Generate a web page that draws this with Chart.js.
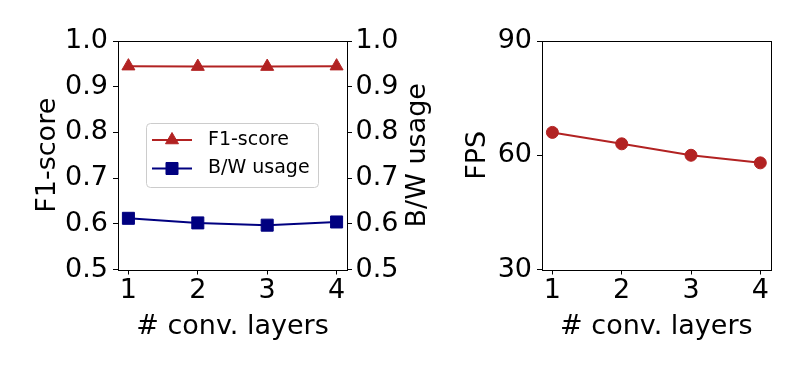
<!DOCTYPE html>
<html>
<head>
<meta charset="utf-8">
<script src="https://cdn.jsdelivr.net/npm/chart.js@4.4.0/dist/chart.umd.min.js"></script>
<style>
  html, body { margin: 0; padding: 0; background: #fff; }
  #wrap { position: relative; width: 800px; height: 370px; }
  #left { position: absolute; left: 0; top: 0; }
  #right { position: absolute; left: 460px; top: 0; }
</style>
</head>
<body>
<div id="wrap">
  <canvas id="left" width="460" height="370"></canvas>
  <canvas id="right" width="340" height="370"></canvas>
</div>
<script>
// data
var layers = [1, 2, 3, 4];
var f1Score = [0.945, 0.944, 0.944, 0.945];
var bwUsage = [0.612, 0.602, 0.597, 0.604];
var fps = [66, 63, 60, 58];
var scoreTicks = [0.5, 0.6, 0.7, 0.8, 0.9, 1.0];
var fpsTicks = [30, 60, 90];

var FONT = 'DejaVu Sans';
var RED = '#b22222';
var NAVY = '#000080';

function pts(ys) {
    return layers.map(function(x, i) { return { x: x, y: ys[i] }; });
}

function fixedTicks(values) {
    return function(scale) {
        scale.ticks = values.map(function(v) { return { value: v }; });
    };
}

function axisGrid() {
    return { drawOnChartArea: false, drawTicks: true, tickLength: 5, tickWidth: 1, color: '#000' };
}

function xAxis() {
    return {
        type: 'linear', position: 'bottom', min: 0.85, max: 4.15,
        afterBuildTicks: fixedTicks(layers),
        afterFit: function(s) { s.height = 100.5; },
        grid: axisGrid(),
        border: { display: false },
        ticks: { color: '#000', font: { family: FONT, size: 27 }, padding: 0, maxRotation: 0, autoSkip: false,
                 callback: function(v) { return String(v); } },
        title: { display: true, text: '# conv. layers', color: '#000', font: { family: FONT, size: 27 },
                 padding: { top: 0, bottom: 27 } }
    };
}

function yAxis(pos, min, max, ticks, width, pad, digits, title, titlePad) {
    return {
        type: 'linear', position: pos, min: min, max: max,
        afterBuildTicks: fixedTicks(ticks),
        afterFit: function(s) { s.width = width; },
        grid: axisGrid(),
        border: { display: false },
        ticks: { color: '#000', font: { family: FONT, size: 27 }, padding: pad,
                 callback: function(v) { return v.toFixed(digits); } },
        title: { display: !!title, text: title || '', color: '#000', font: { family: FONT, size: 27 },
                 padding: { top: titlePad, bottom: 0 } }
    };
}

// matplotlib style frame round the plot area
var framePlugin = {
    id: 'frame',
    beforeDatasetsDraw: function(chart) {
        var a = chart.chartArea, ctx = chart.ctx;
        var l = Math.round(a.left) + 0.5, t = Math.round(a.top) + 0.5;
        var r = Math.round(a.right) + 0.5, b = Math.round(a.bottom) + 0.5;
        ctx.save();
        ctx.strokeStyle = '#000';
        ctx.lineWidth = 1;
        ctx.strokeRect(l, t, r - l, b - t);
        ctx.restore();
    }
};

// right hand y title reads bottom to top, like the original
var rightTitlePlugin = {
    id: 'rightTitle',
    afterDraw: function(chart) {
        var ctx = chart.ctx;
        ctx.save();
        ctx.translate(418, (chart.chartArea.top + chart.chartArea.bottom) / 2);
        ctx.rotate(-Math.PI / 2);
        ctx.fillStyle = '#000';
        ctx.font = '27px "' + FONT + '"';
        ctx.textAlign = 'center';
        ctx.textBaseline = 'middle';
        ctx.fillText('B/W usage', 0, 0);
        ctx.restore();
    }
};

function roundRect(ctx, x, y, w, h, r) {
    ctx.beginPath();
    ctx.moveTo(x + r, y);
    ctx.lineTo(x + w - r, y);
    ctx.arcTo(x + w, y, x + w, y + r, r);
    ctx.lineTo(x + w, y + h - r);
    ctx.arcTo(x + w, y + h, x + w - r, y + h, r);
    ctx.lineTo(x + r, y + h);
    ctx.arcTo(x, y + h, x, y + h - r, r);
    ctx.lineTo(x, y + r);
    ctx.arcTo(x, y, x + r, y, r);
    ctx.closePath();
}

// legend box inside the plot area
var legendPlugin = {
    id: 'boxLegend',
    afterDraw: function(chart) {
        var a = chart.chartArea, ctx = chart.ctx;
        var x0 = Math.round(a.left) + 28, y0 = Math.round(a.top) + 82;
        ctx.save();
        ctx.fillStyle = 'rgba(255,255,255,0.8)';
        ctx.strokeStyle = '#cccccc';
        ctx.lineWidth = 1;
        roundRect(ctx, x0 + 0.5, y0 + 0.5, 172, 64, 4);
        ctx.fill();
        ctx.stroke();
        chart.data.datasets.forEach(function(ds, i) {
            var cy = y0 + 17 + i * 28.5;
            ctx.strokeStyle = ds.borderColor;
            ctx.fillStyle = ds.borderColor;
            ctx.lineWidth = 2;
            ctx.beginPath();
            ctx.moveTo(x0 + 6, cy);
            ctx.lineTo(x0 + 46, cy);
            ctx.stroke();
            ctx.lineWidth = 1;
            Chart.helpers.drawPoint(ctx, { pointStyle: ds.pointStyle, radius: ds.pointRadius, borderWidth: 1, rotation: 0 }, x0 + 26, cy);
            ctx.fillStyle = '#000';
            ctx.font = '19px "' + FONT + '"';
            ctx.textAlign = 'left';
            ctx.textBaseline = 'middle';
            ctx.fillText(ds.label, x0 + 62, cy);
        });
        ctx.restore();
    }
};

new Chart(document.getElementById('left'), {
    type: 'line',
    data: {
        datasets: [
            {
                label: 'F1-score', data: pts(f1Score), yAxisID: 'y',
                borderColor: RED, backgroundColor: RED, borderWidth: 2,
                pointStyle: 'triangle', pointRadius: 7.5, pointBorderWidth: 1,
                pointBackgroundColor: RED, pointBorderColor: RED
            },
            {
                label: 'B/W usage', data: pts(bwUsage), yAxisID: 'y2',
                borderColor: NAVY, backgroundColor: NAVY, borderWidth: 2,
                pointStyle: 'rect', pointRadius: 8.5, pointBorderWidth: 1,
                pointBackgroundColor: NAVY, pointBorderColor: NAVY
            }
        ]
    },
    options: {
        responsive: false,
        animation: false,
        devicePixelRatio: 1,
        layout: { padding: { top: 41, left: 0, right: 0, bottom: 0 } },
        plugins: { legend: { display: false }, tooltip: { enabled: false } },
        scales: {
            x: xAxis(),
            y: yAxis('left', 0.5, 1.0, scoreTicks, 118, 5, 1, 'F1-score', 32),
            y2: yAxis('right', 0.5, 1.0, scoreTicks, 113, 3.5, 1, null, 0)
        }
    },
    plugins: [framePlugin, rightTitlePlugin, legendPlugin]
});

new Chart(document.getElementById('right'), {
    type: 'line',
    data: {
        datasets: [
            {
                label: 'FPS', data: pts(fps),
                borderColor: RED, backgroundColor: RED, borderWidth: 2,
                pointStyle: 'circle', pointRadius: 6, pointBorderWidth: 1,
                pointBackgroundColor: RED, pointBorderColor: RED
            }
        ]
    },
    options: {
        responsive: false,
        animation: false,
        devicePixelRatio: 1,
        layout: { padding: { top: 41, left: 0, right: 29.3, bottom: 0 } },
        plugins: { legend: { display: false }, tooltip: { enabled: false } },
        scales: {
            x: xAxis(),
            y: yAxis('left', 30, 90, fpsTicks, 82, 5, 0, 'FPS', 2)
        }
    },
    plugins: [framePlugin]
});
</script>
</body>
</html>
